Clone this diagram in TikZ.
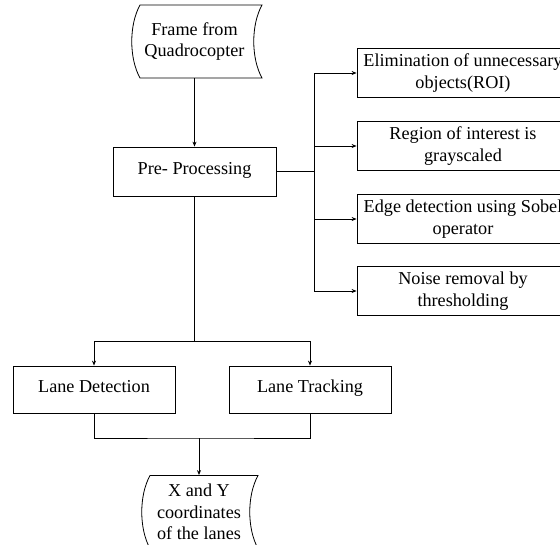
\documentclass[tikz,border=0pt]{standalone}
\usepackage{fontspec}
\setmainfont{Liberation Serif}
\usetikzlibrary{positioning,calc,arrows.meta}

% outline of a stored-data symbol round a node: name, left, right, half height
\newcommand{\storeline}[4]{%
  \draw ($(#1)+(#2,-#4)$) -- ($(#1)+(#3,-#4)$)
    .. controls +(-11,20) and +(-11,-20) .. ($(#1)+(#3,#4)$)
    -- ($(#1)+(#2,#4)$)
    .. controls +(-11,-20) and +(-11,20) .. ($(#1)+(#2,-#4)$) -- cycle;}

\begin{document}
\begin{tikzpicture}[x=1pt, y=-1pt, line width=0.8pt, >={Stealth[length=5pt,width=4pt]},
    font=\fontsize{18.2pt}{21.5pt}\selectfont,
    block/.style = {draw, minimum width=163pt, minimum height=49pt, text height=0.72em, text depth=0.22em},
    task/.style = {draw, minimum width=212pt, minimum height=49pt, align=center, inner sep=2pt},
    store/.style = {minimum height=73pt, align=center}]
    \useasboundingbox (0,0) rectangle (560,544);
    \node[store] (1) at (194.5,41.5) {Frame from\\Quadrocopter};
    \node[block] (2) at (194.5,171.5) {Pre- Processing};
    \node[task] (3) at (463,73) {Elimination of unnecessary\\objects(ROI)};
    \node[task] (4) [below of=3, node distance=73pt] {Region of interest is\\grayscaled};
    \node[task] (5) [below of=4, node distance=73pt] {Edge detection using Sobel\\operator};
    \node[task] (6) [below of=5, node distance=72pt] {Noise removal by\\thresholding};
    \node[block, minimum width=162pt, minimum height=47pt] (7) at (94,389.5) {Lane Detection};
    \node[block, minimum width=162pt, minimum height=47pt] (8) [right of=7, node distance=216pt] {Lane Tracking};
    \node[store] (9) at (199,512) {X and Y\\coordinates\\of the lanes};
    \storeline{1}{-54.5}{67.5}{36.5}
    \storeline{9}{-49}{59}{36.5}
    \coordinate (j) at (314,171.5);
    \coordinate (k) at (194.5,341);
    \coordinate (m) at (199,438);
    \draw[->] (1) -- (2);
    \draw (2) -- (j);
    \foreach \n in {3,...,6}
        \draw[->] (j) |- (\n);
    \draw (2) -- (k);
    \draw[->] (k) -| (7);
    \draw[->] (k) -| (8);
    \draw (7) |- (m) -| (8);
    \draw[->] (m) -- (9);
\end{tikzpicture}
\end{document}
